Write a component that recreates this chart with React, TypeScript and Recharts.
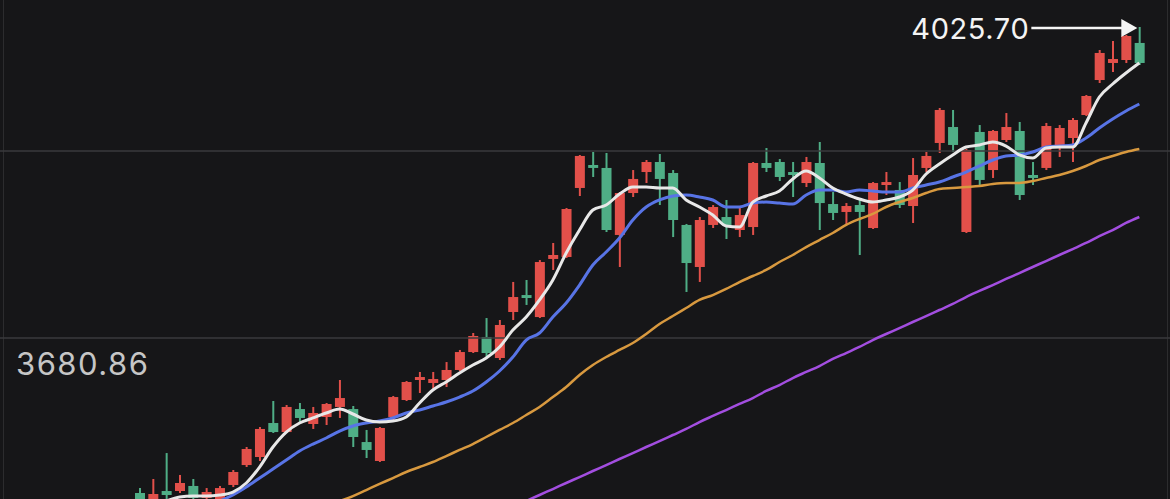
import React from 'react';
import {
  ComposedChart,
  Bar,
  Line,
  XAxis,
  YAxis,
  ReferenceLine,
  ReferenceDot,
} from 'recharts';

// daily candles (red = up, green = down)
const open = [
  3509.0, 3501.2, 3511.2, 3511.2, 3516.8, 3503.5, 3499.0, 3517.9, 3540.0, 3548.9,
  3586.6, 3576.6, 3602.1, 3585.5, 3593.3, 3604.4, 3602.1, 3565.5, 3544.5, 3593.3,
  3612.1, 3634.3, 3631.0, 3634.3, 3645.4, 3665.3, 3682.0, 3658.7, 3709.7, 3728.5,
  3704.1, 3768.5, 3770.7, 3847.2, 3872.7, 3869.4, 3795.1, 3841.6, 3864.9, 3876.0,
  3863.8, 3806.2, 3759.6, 3806.2, 3815.0, 3800.6, 3803.9, 3874.9, 3876.0, 3864.9,
  3852.7, 3874.9, 3829.4, 3820.6, 3828.3, 3802.8, 3850.5, 3845.0, 3827.2, 3869.4,
  3897.1, 3914.8, 3798.4, 3909.3, 3867.1, 3900.4, 3910.4, 3861.6, 3869.4, 3891.5,
  3902.6, 3928.1, 3966.9, 3985.8, 3989.1, 4008.0,
];

const high = [
  3514.5, 3524.5, 3553.3, 3529.0, 3524.5, 3514.5, 3516.8, 3534.5, 3560.0, 3582.2,
  3611.0, 3606.6, 3608.8, 3604.4, 3608.8, 3634.3, 3605.5, 3578.9, 3582.2, 3616.6,
  3633.2, 3643.2, 3643.2, 3654.2, 3667.6, 3686.4, 3703.0, 3700.8, 3743.0, 3745.2,
  3767.3, 3786.2, 3825.0, 3883.8, 3887.1, 3886.0, 3842.7, 3867.1, 3878.2, 3884.9,
  3867.1, 3807.3, 3815.0, 3828.3, 3833.9, 3825.0, 3876.0, 3891.5, 3879.3, 3876.0,
  3881.6, 3898.2, 3842.7, 3830.5, 3836.1, 3853.8, 3864.9, 3853.8, 3880.4, 3887.1,
  3935.9, 3933.7, 3890.4, 3917.0, 3911.5, 3930.3, 3920.4, 3876.0, 3919.3, 3917.0,
  3924.8, 3950.3, 4000.2, 4010.2, 4016.8, 4025.7,
];

const low = [
  3494.6, 3497.9, 3501.2, 3509.0, 3501.2, 3499.0, 3496.8, 3515.6, 3537.8, 3544.5,
  3575.5, 3575.5, 3586.6, 3580.0, 3584.4, 3592.2, 3560.0, 3547.8, 3543.4, 3589.9,
  3611.0, 3619.9, 3623.2, 3626.5, 3644.3, 3664.2, 3659.8, 3656.5, 3700.8, 3717.5,
  3703.0, 3756.3, 3769.6, 3838.3, 3859.4, 3798.4, 3759.6, 3837.2, 3852.7, 3828.3,
  3792.8, 3731.9, 3743.0, 3802.8, 3790.6, 3792.8, 3795.1, 3864.9, 3854.9, 3837.2,
  3848.3, 3800.6, 3811.7, 3806.2, 3772.9, 3801.7, 3839.4, 3825.0, 3808.4, 3864.9,
  3886.0, 3887.1, 3797.3, 3850.5, 3858.3, 3898.2, 3833.9, 3850.5, 3867.1, 3881.6,
  3876.0, 3927.0, 3963.6, 3975.8, 3985.8, 3983.6,
];

const close = [
  3499.0, 3507.9, 3506.8, 3520.1, 3503.5, 3510.1, 3514.5, 3532.3, 3557.8, 3580.0,
  3576.6, 3604.4, 3592.2, 3597.7, 3607.7, 3614.3, 3571.1, 3556.7, 3581.1, 3615.4,
  3632.1, 3637.6, 3635.4, 3645.4, 3665.3, 3683.1, 3664.2, 3695.3, 3726.3, 3725.2,
  3765.1, 3772.9, 3823.9, 3882.7, 3869.4, 3800.6, 3841.6, 3857.2, 3876.0, 3857.2,
  3811.7, 3764.0, 3811.7, 3826.1, 3806.2, 3817.2, 3874.9, 3869.4, 3859.4, 3861.6,
  3876.0, 3830.5, 3819.5, 3827.2, 3820.6, 3852.7, 3853.8, 3828.3, 3861.6, 3882.7,
  3933.7, 3894.9, 3889.3, 3856.1, 3910.4, 3914.8, 3839.4, 3858.3, 3915.9, 3913.7,
  3922.6, 3949.2, 3996.9, 3990.2, 4015.7, 3985.8,
];

// moving averages (white / blue / orange / purple), null where not drawn
const ma5 = [
  null, null, 3500.1, 3504.5, 3505.6, 3505.6, 3506.8, 3510.1, 3520.1, 3537.8,
  3560.0, 3576.6, 3586.6, 3592.2, 3597.7, 3602.1, 3596.6, 3589.9, 3587.7, 3588.8,
  3593.3, 3608.8, 3623.2, 3632.1, 3642.0, 3650.9, 3658.7, 3670.9, 3689.7, 3704.1,
  3723.0, 3745.2, 3775.1, 3800.6, 3822.8, 3828.3, 3840.5, 3848.3, 3848.3, 3847.2,
  3847.2, 3833.9, 3826.1, 3817.2, 3805.0, 3803.9, 3831.6, 3838.3, 3843.9, 3857.2,
  3866.0, 3858.3, 3847.2, 3840.5, 3835.0, 3831.6, 3833.9, 3837.2, 3844.9, 3862.7,
  3873.8, 3883.8, 3892.6, 3894.9, 3898.2, 3893.7, 3883.8, 3880.4, 3891.5, 3892.6,
  3892.6, 3919.3, 3948.1, 3962.5, 3974.7, 3985.8,
];

const ma10 = [
  null, null, null, null, null, 3494.6, 3500.1, 3506.8, 3515.6, 3525.6,
  3535.6, 3545.6, 3555.6, 3563.3, 3570.0, 3577.7, 3583.3, 3586.6, 3588.8, 3592.2,
  3597.7, 3601.0, 3605.5, 3609.9, 3615.4, 3622.1, 3632.1, 3644.3, 3659.8, 3678.6,
  3686.4, 3704.1, 3719.7, 3739.6, 3761.8, 3776.2, 3791.7, 3811.7, 3826.1, 3833.9,
  3838.3, 3839.4, 3837.2, 3833.9, 3826.1, 3826.1, 3830.5, 3831.6, 3830.5, 3829.4,
  3839.4, 3844.9, 3844.9, 3842.7, 3844.9, 3843.9, 3842.7, 3842.7, 3847.2, 3850.5,
  3853.8, 3859.4, 3864.9, 3871.6, 3878.2, 3882.7, 3883.8, 3887.1, 3892.6, 3893.7,
  3894.9, 3902.6, 3913.7, 3923.7, 3932.6, 3940.3,
];

const ma20 = [
  null, null, null, null, null, null, null, null, null, null,
  null, null, null, null, 3495.7, 3500.1, 3505.6, 3512.3, 3519.0, 3525.6,
  3532.3, 3537.8, 3543.4, 3550.0, 3556.7, 3563.3, 3571.1, 3578.9, 3586.6, 3595.5,
  3604.4, 3615.4, 3626.5, 3639.8, 3650.9, 3659.8, 3667.6, 3675.3, 3685.3, 3696.4,
  3705.2, 3714.1, 3723.0, 3728.5, 3735.2, 3742.9, 3749.6, 3756.3, 3765.1, 3772.9,
  3781.7, 3789.5, 3797.3, 3806.2, 3812.8, 3818.4, 3826.1, 3831.6, 3836.1, 3841.6,
  3846.1, 3847.2, 3848.3, 3849.4, 3851.6, 3852.7, 3852.7, 3854.9, 3858.3, 3861.6,
  3866.0, 3871.6, 3878.2, 3882.7, 3887.1, 3890.4,
];

const ma60 = [
  null, null, null, null, null, null, null, null, null, null,
  null, null, null, null, null, null, null, null, null, null,
  null, null, null, null, null, null, null, 3487.9, 3493.5, 3500.1,
  3506.8, 3513.4, 3520.1, 3526.7, 3533.4, 3540.0, 3546.7, 3553.3, 3560.0, 3566.6,
  3573.3, 3580.0, 3587.7, 3594.4, 3601.0, 3607.7, 3614.3, 3622.1, 3628.7, 3636.5,
  3643.2, 3649.8, 3657.6, 3664.2, 3670.9, 3678.6, 3685.3, 3691.9, 3698.6, 3705.2,
  3711.9, 3718.6, 3726.3, 3733.0, 3739.6, 3746.3, 3752.9, 3759.6, 3766.2, 3772.9,
  3779.5, 3786.2, 3793.9, 3800.6, 3808.4, 3815.0,
];

const gridValues = [3888.2, 3680.86];
const labelValue = 3680.86;
const peakValue = 4025.7;
const yDomain = [3502.35, 4055.63];

const RED = '#e2504a';
const GREEN = '#4fae86';
const BG = '#161618';

const data = open.map((o, i) => ({
  i,
  open: o,
  high: high[i],
  low: low[i],
  close: close[i],
  range: [low[i], high[i]],
  ma5: ma5[i],
  ma10: ma10[i],
  ma20: ma20[i],
  ma60: ma60[i],
}));

const Candle = (props: any) => {
  const { x, y, width, height, payload } = props;
  if (!payload) return null;
  const top = Math.min(y, y + height);
  const h = Math.abs(height);
  const up = payload.close >= payload.open;
  const color = up ? RED : GREEN;
  const ratio = h / (payload.high - payload.low);
  const bodyTop = top + (payload.high - Math.max(payload.open, payload.close)) * ratio;
  const bodyH = Math.max(Math.abs(payload.open - payload.close) * ratio, 2);
  const cx = x + width / 2;
  return (
    <g>
      <line x1={cx} x2={cx} y1={top} y2={top + h} stroke={color} strokeWidth={2} />
      <rect x={x} y={bodyTop} width={width} height={bodyH} fill={color} />
    </g>
  );
};

const PeakMarker = (props: any) => {
  const { cx, cy } = props;
  const tipX = cx - 2;
  const tipY = cy + 1;
  return (
    <g>
      <line x1={tipX - 106} x2={tipX - 14} y1={tipY} y2={tipY} stroke="#f4f4f4" strokeWidth={2.5} />
      <path d={`M${tipX},${tipY} L${tipX - 16},${tipY - 9} L${tipX - 16},${tipY + 9} Z`} fill="#f4f4f4" />
      <text
        x={tipX - 108}
        y={tipY + 11}
        textAnchor="end"
        fill="#f4f4f4"
        fontSize={29}
        fontFamily="Inter, 'Noto Sans', sans-serif"
        letterSpacing={0.6}
      >
        {peakValue.toFixed(2)}
      </text>
    </g>
  );
};

const GridLabel = (props: any) => {
  const { viewBox } = props;
  if (!viewBox) return null;
  return (
    <text
      x={viewBox.x + 16}
      y={viewBox.y + 37}
      fill="#c6c6c6"
      fontSize={31}
      fontFamily="Inter, 'Noto Sans', sans-serif"
      letterSpacing={1.5}
    >
      {labelValue.toFixed(2)}
    </text>
  );
};

export default function App() {
  return (
    <div style={{ position: 'absolute', top: 0, left: 0, width: 1170, height: 499, background: BG, overflow: 'hidden' }}>
      <div style={{ position: 'absolute', left: 3, top: 0, width: 1, height: 499, background: '#2c2c2e' }} />
      <div style={{ position: 'absolute', left: 1167, top: 0, width: 1, height: 499, background: '#2c2c2e' }} />
      <ComposedChart width={1170} height={499} data={data} margin={{ top: 0, right: 0, bottom: 0, left: 0 }}>
        <XAxis dataKey="i" type="category" hide padding={{ left: 133, right: 24 }} />
        <YAxis hide domain={yDomain} allowDataOverflow type="number" />
        {gridValues.map((v) => (
          <ReferenceLine
            key={v}
            y={v}
            stroke="#3a3a3c"
            strokeWidth={1.5}
            label={v === labelValue ? <GridLabel /> : undefined}
          />
        ))}
        <Bar dataKey="range" barSize={10} shape={<Candle />} isAnimationActive={false} />
        <Line type="monotone" dataKey="ma60" stroke="#a34ee0" strokeWidth={2.5} dot={false} isAnimationActive={false} />
        <Line type="monotone" dataKey="ma20" stroke="#d8993f" strokeWidth={2.5} dot={false} isAnimationActive={false} />
        <Line type="monotone" dataKey="ma10" stroke="#5874e6" strokeWidth={3} dot={false} isAnimationActive={false} />
        <Line type="monotone" dataKey="ma5" stroke="#e8e8e8" strokeWidth={3} dot={false} isAnimationActive={false} />
        <ReferenceDot x={75} y={peakValue} r={0} shape={<PeakMarker />} ifOverflow="visible" />
      </ComposedChart>
    </div>
  );
}
